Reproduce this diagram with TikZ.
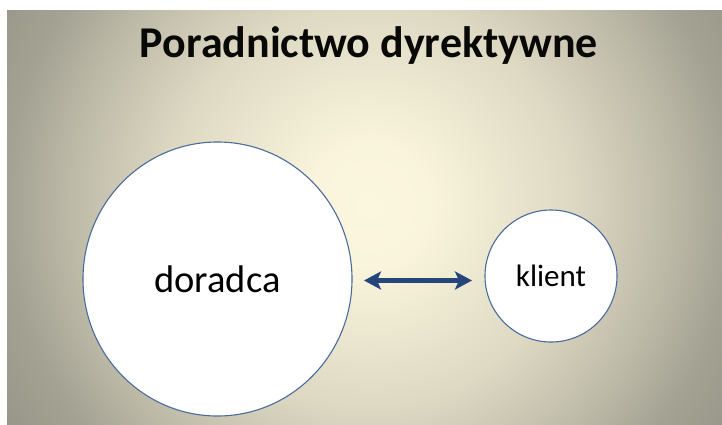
\documentclass[tikz,border=0pt]{standalone}
\usepackage{fontspec}
\setmainfont{Carlito}
\usetikzlibrary{arrows.meta,shapes.geometric}
\definecolor{bgA}{RGB}{251,246,222}
\definecolor{bgB}{RGB}{249,244,219}
\definecolor{bgC}{RGB}{222,217,195}
\definecolor{bgD}{RGB}{188,185,167}
\definecolor{bgE}{RGB}{164,162,147}
\definecolor{bgF}{RGB}{152,151,137}
\definecolor{bgG}{RGB}{149,148,134}
\definecolor{rimblue}{RGB}{74,107,155}
\definecolor{arrowblue}{RGB}{36,70,122}
\definecolor{titleink}{RGB}{8,8,6}
\pgfdeclareradialshading{bgshade}{\pgfpoint{0bp}{0bp}}{color(0bp)=(bgA); color(60bp)=(bgB); color(200bp)=(bgC); color(300bp)=(bgD); color(360bp)=(bgE); color(420bp)=(bgF); color(470bp)=(bgG)}
\tikzset{
  disc/.style={draw=rimblue, line width=1.1pt, fill=white, inner sep=0pt},
  titletext/.style={font=\fontsize{44}{50}\selectfont\bfseries, anchor=base, text=titleink},
  link/.style={draw=arrowblue, line width=4.5pt, {Stealth[length=17pt,width=18pt,inset=4pt]}-{Stealth[length=17pt,width=18pt,inset=4pt]}, shorten <=1pt, shorten >=1pt}
}
\begin{document}
\begin{tikzpicture}[x=1pt,y=-1pt]
\useasboundingbox (0,0) rectangle (722,424);
\fill[white] (0,0) rectangle (722,424);
\begin{scope}
  \clip (7,10) rectangle (722,424);
  \node[inner sep=0pt, outer sep=0pt] (bg) at (370,205) {\pgfuseshading{bgshade}};
\end{scope}
% title
\node[titletext] (title) at (369,57) {Poradnictwo dyrektywne};
% circles
\node[disc, ellipse, minimum width=269pt, minimum height=274pt, font=\fontsize{38.5}{44}\selectfont] (doradca) at (217.5,279) {doradca};
\node[disc, circle, minimum size=132pt, font=\fontsize{31}{36}\selectfont] (klient) at (551,276) {klient};
% connector
\coordinate (aL) at (363,280.5);
\coordinate (aR) at (473,280.5);
\draw[link] (aL) -- (aR);
\end{tikzpicture}
\end{document}
